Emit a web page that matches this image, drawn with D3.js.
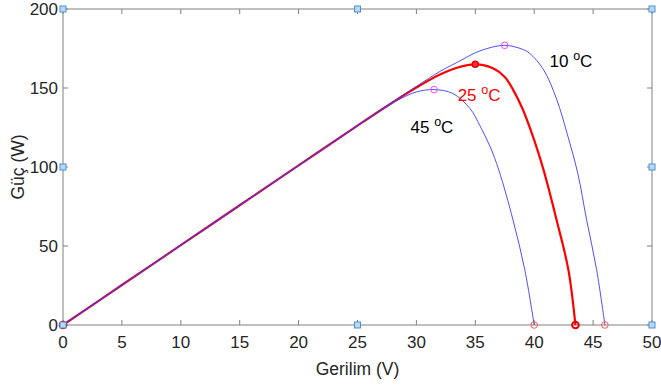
<!DOCTYPE html>
<html>
<head>
<meta charset="utf-8">
<script src="https://cdn.jsdelivr.net/npm/d3@7"></script>
<style>
  body { margin: 0; background: #fff; }
  svg { display: block; font-family: "Liberation Sans", Arial, sans-serif; }
</style>
</head>
<body>
<svg id="chart" width="661" height="387"></svg>
<script>
// P-V curves: voltage (V) and power (W)
var volt10 = [0, 5, 10, 15, 20, 25, 28, 30, 32, 33.4, 35.4, 37.5, 39, 39.6, 40.8, 41.9, 42.8, 43.7, 44.45, 45.3, 46];
var power10 = [0, 25.3, 50.5, 75.8, 101, 126.2, 141.2, 151, 160.5, 166, 173.5, 177, 174.5, 172, 161.5, 143, 121, 96, 66.5, 35, 0];

var volt25 = [0, 5, 10, 15, 20, 25, 28, 30, 32, 33.5, 35, 36.5, 37.5, 38.2, 39, 40, 40.8, 41.9, 42.9, 43.5];
var power25 = [0, 25.3, 50.5, 75.8, 101, 126.2, 141, 150.3, 158.5, 163, 165, 162.5, 157, 149, 137, 117, 98, 66.5, 35, 0];

var volt45 = [0, 5, 10, 15, 20, 25, 27, 28.6, 30, 31.5, 33.1, 34.55, 35.4, 36.25, 37, 38.2, 39.2, 40];
var power45 = [0, 25.3, 50.5, 75.8, 101, 126.2, 136, 143, 147.5, 149, 146.5, 137, 126, 113, 98, 66.5, 35, 0];

// maximum power points and open-circuit points
var mppVolt = [37.5, 35, 31.5];
var mppPower = [177, 165, 149];
var vocVolt = [46, 43.5, 40];

var xTicks = [0, 5, 10, 15, 20, 25, 30, 35, 40, 45, 50];
var yTicks = [0, 50, 100, 150, 200];

// handle markers along the box edges
var handleX = [0, 25, 50, 0, 50, 0, 25, 50];
var handleY = [0, 0, 0, 100, 100, 200, 200, 200];

var labelText = ["10", "25", "45"];
var labelVolt = [41.3, 33.5, 29.5];
var labelPower = [163, 142, 121.5];
var labelColor = ["#000", "#ff0000", "#000"];

var svg = d3.select("#chart");
var margin = { left: 63, right: 9, top: 9, bottom: 62 };
var width = 661 - margin.left - margin.right;
var height = 387 - margin.top - margin.bottom;

var x = d3.scaleLinear().domain([0, 50]).range([margin.left, margin.left + width]);
var y = d3.scaleLinear().domain([0, 200]).range([margin.top + height, margin.top]);

var axisColor = "#808080";
var textColor = "#262626";

// box
svg.append("rect")
  .attr("x", x(0)).attr("y", y(200))
  .attr("width", x(50) - x(0)).attr("height", y(0) - y(200))
  .attr("fill", "none").attr("stroke", axisColor).attr("stroke-width", 1);

// ticks (inward on all four sides)
var tickLen = 5;
xTicks.forEach(function (t) {
  svg.append("line").attr("x1", x(t)).attr("x2", x(t))
    .attr("y1", y(0)).attr("y2", y(0) - tickLen).attr("stroke", axisColor);
  svg.append("line").attr("x1", x(t)).attr("x2", x(t))
    .attr("y1", y(200)).attr("y2", y(200) + tickLen).attr("stroke", axisColor);
  svg.append("text").attr("x", x(t)).attr("y", y(0) + 23)
    .attr("text-anchor", "middle").attr("font-size", 17).attr("fill", textColor)
    .text(t);
});
yTicks.forEach(function (t) {
  svg.append("line").attr("x1", x(0)).attr("x2", x(0) + tickLen)
    .attr("y1", y(t)).attr("y2", y(t)).attr("stroke", axisColor);
  svg.append("line").attr("x1", x(50)).attr("x2", x(50) - tickLen)
    .attr("y1", y(t)).attr("y2", y(t)).attr("stroke", axisColor);
  svg.append("text").attr("x", x(0) - 5).attr("y", y(t) + 6)
    .attr("text-anchor", "end").attr("font-size", 17).attr("fill", textColor)
    .text(t);
});

// axis labels
svg.append("text").attr("x", (x(0) + x(50)) / 2).attr("y", 375)
  .attr("text-anchor", "middle").attr("font-size", 17.5).attr("fill", textColor)
  .text("Gerilim (V)");
svg.append("text")
  .attr("transform", "translate(24," + ((y(0) + y(200)) / 2) + ") rotate(-90)")
  .attr("text-anchor", "middle").attr("font-size", 17.5).attr("fill", textColor)
  .text("Güç (W)");

function pts(vs, ps) {
  return vs.map(function (v, i) { return [v, ps[i]]; });
}

var line = d3.line()
  .x(function (d) { return x(d[0]); })
  .y(function (d) { return y(d[1]); })
  .curve(d3.curveCatmullRom.alpha(0.5));

var plot = svg.append("g");

// 25 C in thick red, the other two thin blue on top
plot.append("path").attr("d", line(pts(volt25, power25)))
  .attr("fill", "none").attr("stroke", "#ff0000").attr("stroke-width", 2.2);
plot.append("path").attr("d", line(pts(volt10, power10)))
  .attr("fill", "none").attr("stroke", "#3a3aff").attr("stroke-width", 0.9);
plot.append("path").attr("d", line(pts(volt45, power45)))
  .attr("fill", "none").attr("stroke", "#3a3aff").attr("stroke-width", 0.9);

// max power markers
[0, 2].forEach(function (i) {
  plot.append("circle").attr("cx", x(mppVolt[i])).attr("cy", y(mppPower[i])).attr("r", 3.3)
    .attr("fill", "none").attr("stroke", "#ff44ff").attr("stroke-width", 1);
});
plot.append("circle").attr("cx", x(mppVolt[1])).attr("cy", y(mppPower[1])).attr("r", 3)
  .attr("fill", "#ff3030").attr("stroke", "#e00000").attr("stroke-width", 1.5);

// open circuit markers
[0, 2].forEach(function (i) {
  plot.append("circle").attr("cx", x(vocVolt[i])).attr("cy", y(0)).attr("r", 3.3)
    .attr("fill", "none").attr("stroke", "#ff5555").attr("stroke-width", 1);
});
plot.append("circle").attr("cx", x(vocVolt[1])).attr("cy", y(0)).attr("r", 3.3)
  .attr("fill", "none").attr("stroke", "#ee0000").attr("stroke-width", 2);
plot.append("circle").attr("cx", x(0)).attr("cy", y(0)).attr("r", 3.3)
  .attr("fill", "none").attr("stroke", "#ee0000").attr("stroke-width", 2);

// handles
handleX.forEach(function (hx, i) {
  svg.append("rect").attr("x", x(hx) - 3).attr("y", y(handleY[i]) - 3)
    .attr("width", 6).attr("height", 6)
    .attr("fill", "#b8d8f4").attr("stroke", "#4f8fcf").attr("stroke-width", 1);
});

// temperature labels
labelText.forEach(function (t, i) {
  var txt = svg.append("text").attr("x", x(labelVolt[i])).attr("y", y(labelPower[i]))
    .attr("font-size", 17).attr("fill", labelColor[i]);
  txt.append("tspan").text(t + " ");
  txt.append("tspan").attr("dy", -7).attr("font-size", 12.5).text("o");
  txt.append("tspan").attr("dy", 7).text("C");
});
</script>
</body>
</html>
